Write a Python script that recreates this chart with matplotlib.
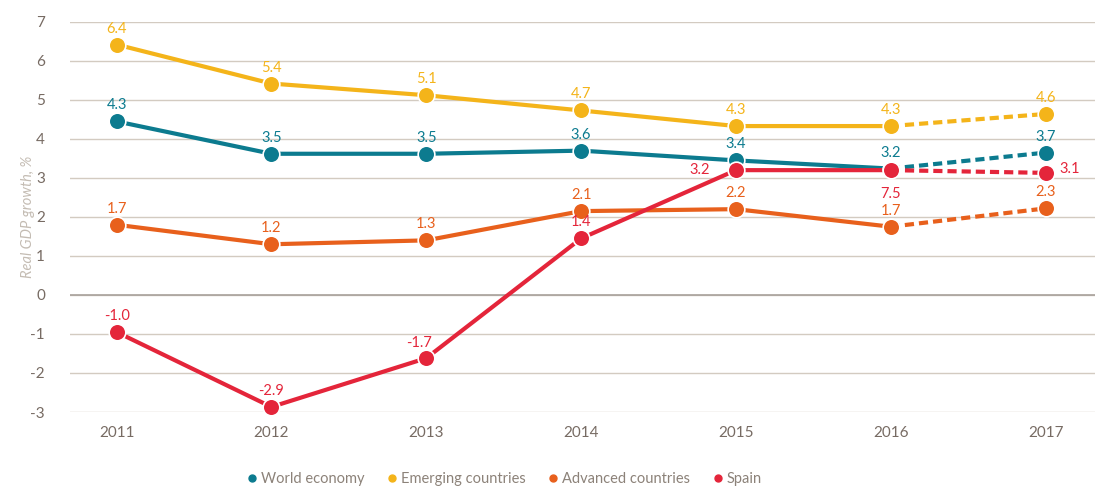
import matplotlib; matplotlib.use('Agg')
import matplotlib.pyplot as plt
from matplotlib.lines import Line2D

# --- data
years = [2011, 2012, 2013, 2014, 2015, 2016, 2017]
world = [4.45, 3.62, 3.62, 3.7, 3.45, 3.24, 3.65]
emerging = [6.42, 5.42, 5.12, 4.73, 4.33, 4.33, 4.64]
advanced = [1.8, 1.3, 1.4, 2.15, 2.2, 1.75, 2.22]
spain = [-0.95, -2.87, -1.62, 1.45, 3.2, 3.2, 3.13]

world_lbl = ["4.3", "3.5", "3.5", "3.6", "3.4", "3.2", "3.7"]
emerging_lbl = ["6.4", "5.4", "5.1", "4.7", "4.3", "4.3", "4.6"]
advanced_lbl = ["1.7", "1.2", "1.3", "2.1", "2.2", "1.7", "2.3"]
spain_lbl = ["-1.0", "-2.9", "-1.7", "1.4", "3.2", "7.5", "3.1"]

names = ["World economy", "Emerging countries", "Advanced countries", "Spain"]
colors = ["#0c7b8f", "#f4b41a", "#e8601c", "#e4253a"]

plt.rcParams['font.family'] = ['Lato', 'DejaVu Sans']
plt.rcParams['axes.unicode_minus'] = False

fig = plt.figure(figsize=(11.13, 4.87), dpi=100)
ax = fig.add_axes([0.063, 0.154, 0.921, 0.801])

series = [
    (world, world_lbl, colors[0]),
    (emerging, emerging_lbl, colors[1]),
    (advanced, advanced_lbl, colors[2]),
    (spain, spain_lbl, colors[3]),
]

# label offsets in points (dx, dy); default is above the point
offsets = {}
offsets[(3, 4)] = (-26, 0)
offsets[(3, 5)] = (0, -17)
offsets[(3, 6)] = (17, 3)
offsets[(3, 2)] = (-5, 11)

for si, (vals, lbls, c) in enumerate(series):
    ax.plot(years[:6], vals[:6], color=c, lw=3, solid_capstyle='round', zorder=3 + si)
    ax.plot(years[5:], vals[5:], color=c, lw=3, ls=(0, (2.2, 1.2)), zorder=3 + si)
    ax.plot(years, vals, ls='none', marker='o', ms=12, mfc=c, mec='white', mew=1.2,
            zorder=7 + si, clip_on=False)
    for i, (x, y) in enumerate(zip(years, vals)):
        dx, dy = offsets.get((si, i), (0, 11.5))
        ax.annotate(lbls[i], (x, y), xytext=(dx, dy), textcoords='offset points',
                    ha='center', va='center', color=c, fontsize=10.5, zorder=12)

ax.set_xlim(2010.7, 2017.32)
ax.set_ylim(-3, 7)
ax.set_yticks(range(-3, 8))
ax.set_xticks(years)
ax.yaxis.grid(True, color='#d3cbc1', lw=1)
ax.axhline(0, color='#a8a29c', lw=1.2, zorder=1)
ax.set_axisbelow(True)
for s in ax.spines.values():
    s.set_visible(False)
ax.tick_params(length=0, colors='#776b63', labelsize=11)
ax.tick_params(axis='x', pad=10)
ax.tick_params(axis='y', pad=18)
ax.set_ylabel("Real GDP growth, %", style='italic', color='#c4bcb3', fontsize=10.5, labelpad=-3)

handles = [Line2D([], [], ls='none', marker='o', ms=5, color=c) for c in colors]
fig.legend(handles, names, loc='lower center', bbox_to_anchor=(0.452, -0.025), ncol=4,
           frameon=False, fontsize=10.5, labelcolor='#8c8279', handletextpad=0.1,
           columnspacing=1.4, handlelength=1.0)

fig.savefig("out.png", dpi=100)
